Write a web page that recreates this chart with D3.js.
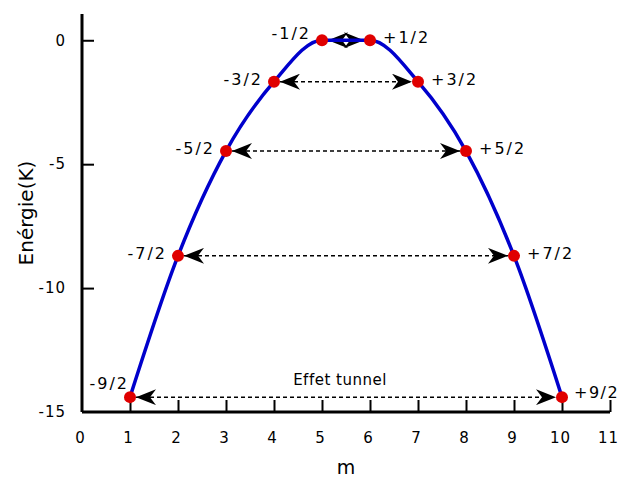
<!DOCTYPE html>
<html>
<head>
<meta charset="utf-8">
<script src="https://cdn.jsdelivr.net/npm/d3@7"></script>
<style>
  body { margin: 0; background: #fff; }
  text { font-family: "DejaVu Sans", sans-serif; fill: #000; }
</style>
</head>
<body>
<div class="chart"></div>
<script>
// niveaux m et energies
var mValues = [1, 2, 3, 4, 5, 6, 7, 8, 9, 10];
var energies = [-14.4, -8.7, -4.47, -1.67, 0, 0, -1.67, -4.47, -8.7, -14.4];
var spinLabels = ["-9/2", "-7/2", "-5/2", "-3/2", "-1/2", "+1/2", "+3/2", "+5/2", "+7/2", "+9/2"];
var xTicks = [0, 1, 2, 3, 4, 5, 6, 7, 8, 9, 10, 11];
var yTicks = [0, -5, -10, -15];

var w = 620, h = 478;
var margin = {top: 14, right: 10, bottom: 66, left: 82};

var svg = d3.select("div.chart")
    .append("svg")
    .attr("width", w)
    .attr("height", h);

var x = d3.scaleLinear().domain([0, 11]).range([margin.left, w - margin.right]);
var y = d3.scaleLinear().domain([-15, 1.06]).range([h - margin.bottom, margin.top]);

var points = mValues.map(function(m, i){
    return {m: m, e: energies[i], label: spinLabels[i], i: i};
});

// arrowhead marker
var defs = svg.append("defs");
defs.append("marker")
    .attr("id", "head")
    .attr("viewBox", "0 0 20 16")
    .attr("refX", 20)
    .attr("refY", 8)
    .attr("markerWidth", 20)
    .attr("markerHeight", 16)
    .attr("markerUnits", "userSpaceOnUse")
    .attr("orient", "auto-start-reverse")
    .append("path")
    .attr("d", "M0,0 L20,8 L0,16 L6,8 Z")
    .attr("fill", "#000");

// axes (plain hyphen for negative numbers, like the original)
var fmt = d => String(d);

var xAxis = svg.append("g")
    .attr("transform", `translate(0,${y(-15)})`)
    .call(d3.axisBottom(x).tickValues(xTicks).tickFormat(fmt).tickSize(-12).tickPadding(20));

var yAxis = svg.append("g")
    .attr("transform", `translate(${x(0)},0)`)
    .call(d3.axisLeft(y).tickValues(yTicks).tickFormat(fmt).tickSize(-12).tickPadding(16));

[xAxis, yAxis].forEach(function(g){
    g.select(".domain").attr("stroke", "#000").attr("stroke-width", 3);
    g.selectAll(".tick line").attr("stroke", "#000").attr("stroke-width", 2);
    g.selectAll(".tick text")
        .style("font-family", "DejaVu Sans, sans-serif")
        .style("font-size", "15px")
        .style("letter-spacing", "1px");
});
xAxis.selectAll(".tick text").attr("dx", -2);
yAxis.select(".domain").attr("d", `M0,${y(-15)}V${margin.top}`);
xAxis.select(".domain").attr("d", `M${x(0)},0H${x(11)}`);
xAxis.selectAll(".tick").filter(function(d){ return d === 0; }).select("line").remove();
yAxis.selectAll(".tick").filter(function(d){ return d === -15; }).select("line").remove();

// axis titles
svg.append("text")
    .attr("x", (x(0) + x(11)) / 2)
    .attr("y", 474)
    .attr("text-anchor", "middle")
    .style("font-size", "19px")
    .text("m");

svg.append("text")
    .attr("transform", `translate(33,${(y(-15) + margin.top) / 2}) rotate(-90)`)
    .attr("text-anchor", "middle")
    .style("font-size", "20px")
    .text("Enérgie(K)");

// tunnel arrows between symmetric levels
var pairs = d3.range(5).map(function(i){
    return [points[i], points[mValues.length - 1 - i]];
});

svg.selectAll("line.tunnel")
    .data(pairs)
    .enter()
    .append("line")
    .attr("class", "tunnel")
    .attr("x1", d => x(d[0].m) + 6)
    .attr("x2", d => x(d[1].m) - 6)
    .attr("y1", d => y(d[0].e))
    .attr("y2", d => y(d[1].e))
    .attr("stroke", "#000")
    .attr("stroke-width", 1.5)
    .attr("stroke-dasharray", "4,3")
    .attr("marker-start", "url(#head)")
    .attr("marker-end", "url(#head)");

svg.append("text")
    .attr("x", 340)
    .attr("y", 385)
    .attr("text-anchor", "middle")
    .style("font-size", "15px")
    .style("letter-spacing", "0.5px")
    .text("Effet tunnel");

// energy curve
var line = d3.line()
    .x(d => x(d.m))
    .y(d => y(d.e))
    .curve(d3.curveMonotoneX);

svg.append("path")
    .datum(points)
    .attr("d", line)
    .attr("fill", "none")
    .attr("stroke", "#0000cc")
    .attr("stroke-width", 3.5);

// level dots
svg.selectAll("circle.level")
    .data(points)
    .enter()
    .append("circle")
    .attr("class", "level")
    .attr("cx", d => x(d.m))
    .attr("cy", d => y(d.e))
    .attr("r", 6)
    .attr("fill", "#e00000");

// level labels
svg.selectAll("text.level")
    .data(points)
    .enter()
    .append("text")
    .attr("class", "level")
    .attr("x", function(d){
        if (d.i === 0) return x(d.m) - 1;
        if (d.i === 9) return x(d.m) + 12;
        return d.i < 5 ? x(d.m) - 11 : x(d.m) + 13;
    })
    .attr("y", function(d){
        var dy = 3;
        if (d.i === 0) dy = -8;
        if (d.i === 4) dy = -1;
        if (d.i === 9) dy = 1;
        return y(d.e) + dy;
    })
    .attr("text-anchor", d => d.i < 5 ? "end" : "start")
    .style("font-size", "16px")
    .style("letter-spacing", d => d.i === 9 ? "1.5px" : "2px")
    .text(d => d.label);
</script>
</body>
</html>
